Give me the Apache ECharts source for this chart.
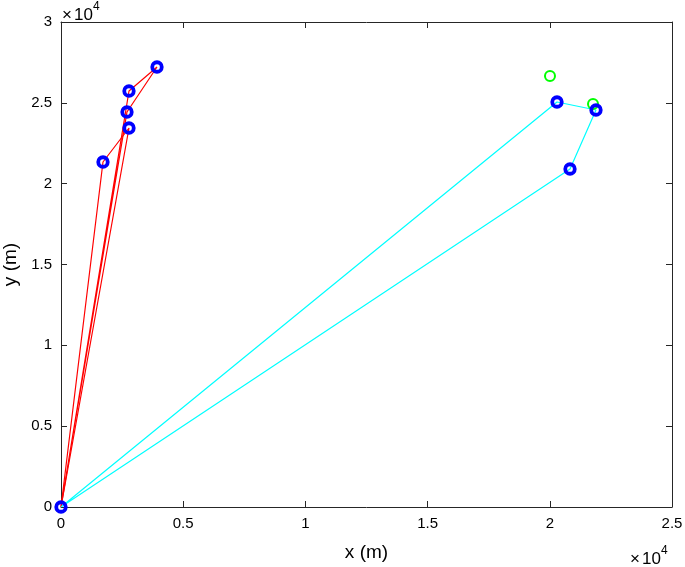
<!DOCTYPE html>
<html>
<head>
<meta charset="utf-8">
<script src="https://cdn.jsdelivr.net/npm/echarts@6/dist/echarts.min.js"></script>
<style>
  html, body { margin: 0; padding: 0; background: #fff; }
  #chart { width: 685px; height: 567px; }
</style>
</head>
<body>
<div id="chart"></div>
<script>
// routes (x, y in metres), each starts and ends at the depot
const redRoutes = [
  [[0, 0], [1718, 21340], [2782, 23443], [0, 0]],
  [[0, 0], [2700, 24433], [3928, 27216], [2782, 25732], [0, 0]]
];
const cyanRoute = [[0, 0], [20295, 25052], [21890, 24557], [20827, 20907], [0, 0]];
// customer nodes
const bluePoints = [
  [0, 0], [3928, 27216], [2782, 25732], [2700, 24433], [2782, 23443], [1718, 21340],
  [20295, 25052], [21890, 24557], [20827, 20907]
];
const greenPoints = [[20008, 26660], [21768, 24928]];

const xTicks = [0, 0.5, 1, 1.5, 2, 2.5];
const yTicks = [0, 0.5, 1, 1.5, 2, 2.5, 3];
const scale = 1e4;

const font = 'Liberation Sans, Arial, sans-serif';
const axisColor = '#262626';

const chart = echarts.init(document.getElementById('chart'));

const lineSeries = (data, color) => ({
  type: 'line',
  data: data,
  symbol: 'none',
  lineStyle: { color: color, width: 1.2 },
  animation: false,
  z: 2
});

const boxAxis = (pos, ticks) => ({
  type: 'value',
  position: pos,
  min: 0,
  max: ticks[ticks.length - 1] * scale,
  interval: 0.5 * scale,
  axisLine: { show: true, onZero: false, lineStyle: { color: axisColor, width: 1 } },
  axisTick: { show: true, inside: true, length: 6, lineStyle: { color: axisColor } },
  axisLabel: { show: false },
  splitLine: { show: false }
});

// "×10^4" multiplier labels, drawn as separate pieces
const expText = (left, top) => [
  { text: '×', left: left, top: top + 6, padding: 0,
    textStyle: { fontFamily: font, fontSize: 17, fontWeight: 'normal', color: '#000' } },
  { text: '10', left: left + 12, top: top + 6, padding: 0,
    textStyle: { fontFamily: font, fontSize: 17, fontWeight: 'normal', color: '#000' } },
  { text: '4', left: left + 31, top: top, padding: 0,
    textStyle: { fontFamily: font, fontSize: 12, fontWeight: 'normal', color: '#000' } }
];

chart.setOption({
  backgroundColor: '#fff',
  title: [...expText(62, 1), ...expText(630, 545)],
  grid: { left: 61, right: 13, top: 22, bottom: 60, outerBoundsMode: 'none', containLabel: false },
  xAxis: [
    {
      type: 'value',
      min: 0,
      max: xTicks[xTicks.length - 1] * scale,
      interval: 0.5 * scale,
      name: 'x (m)',
      nameLocation: 'middle',
      nameGap: 36,
      nameTextStyle: { fontFamily: font, fontSize: 19, color: '#000' },
      axisLine: { onZero: false, lineStyle: { color: axisColor, width: 1 } },
      axisTick: { inside: true, length: 6, lineStyle: { color: axisColor } },
      axisLabel: {
        fontFamily: font, fontSize: 15, color: '#000', margin: 9,
        formatter: v => String(v / scale)
      },
      splitLine: { show: false }
    },
    boxAxis('top', xTicks)
  ],
  yAxis: [
    {
      type: 'value',
      min: 0,
      max: yTicks[yTicks.length - 1] * scale,
      interval: 0.5 * scale,
      name: 'y (m)',
      nameLocation: 'middle',
      nameGap: 40,
      nameTextStyle: { fontFamily: font, fontSize: 19, color: '#000' },
      axisLine: { onZero: false, lineStyle: { color: axisColor, width: 1 } },
      axisTick: { inside: true, length: 6, lineStyle: { color: axisColor } },
      axisLabel: {
        fontFamily: font, fontSize: 15, color: '#000', margin: 9,
        formatter: v => String(v / scale)
      },
      splitLine: { show: false }
    },
    boxAxis('right', yTicks)
  ],
  series: [
    ...redRoutes.map(r => lineSeries(r, '#ff0000')),
    lineSeries(cyanRoute, '#00ffff'),
    {
      type: 'scatter',
      data: greenPoints,
      symbol: 'circle',
      symbolSize: 10,
      itemStyle: { color: 'transparent', borderColor: '#00ff00', borderWidth: 2, opacity: 1 },
      animation: false,
      z: 3
    },
    {
      type: 'scatter',
      data: bluePoints,
      symbol: 'circle',
      symbolSize: 9.5,
      itemStyle: { color: 'transparent', borderColor: '#0000ff', borderWidth: 3.8, opacity: 1 },
      animation: false,
      z: 4
    }
  ]
});
</script>
</body>
</html>
